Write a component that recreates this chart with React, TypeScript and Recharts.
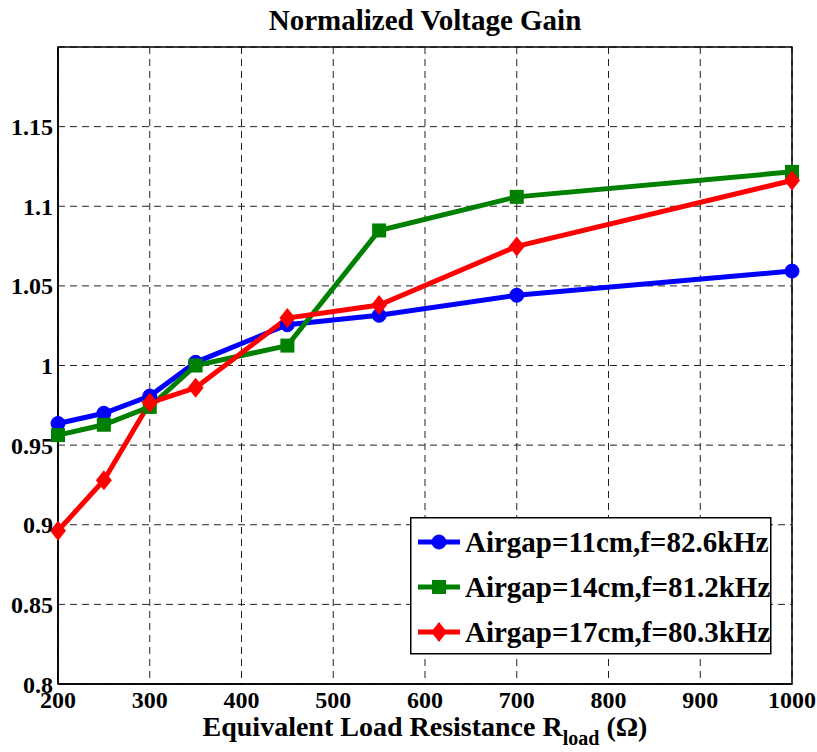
import { CartesianGrid, Legend, Line, LineChart, ReferenceArea, XAxis, YAxis } from 'recharts';

const LOADS = [200, 250, 300, 350, 450, 550, 700, 1000];
const GAIN_11CM = [0.9636, 0.97, 0.9808, 1.002, 1.0256, 1.0315, 1.0441, 1.0593];
const GAIN_14CM = [0.9563, 0.9628, 0.974, 1.0, 1.0125, 1.0848, 1.1059, 1.1216];
const GAIN_17CM = [0.8962, 0.928, 0.9766, 0.986, 1.0298, 1.038, 1.0748, 1.1162];

const X_TICKS = [200, 300, 400, 500, 600, 700, 800, 900, 1000];
const Y_TICKS = [0.8, 0.85, 0.9, 0.95, 1, 1.05, 1.1, 1.15];
const X_DOMAIN = [200, 1000];
const Y_DOMAIN = [0.8, 1.2];

const SERIES = [
  { key: 'g11', name: 'Airgap=11cm,f=82.6kHz', color: '#0000ff', marker: 'circle' },
  { key: 'g14', name: 'Airgap=14cm,f=81.2kHz', color: '#008000', marker: 'square' },
  { key: 'g17', name: 'Airgap=17cm,f=80.3kHz', color: '#ff0000', marker: 'diamond' },
];

const data = LOADS.map((r, i) => ({ r, g11: GAIN_11CM[i], g14: GAIN_14CM[i], g17: GAIN_17CM[i] }));

const FONT = '"Liberation Serif", "Times New Roman", serif';
const tickStyle = { fontFamily: FONT, fontWeight: 'bold', fontSize: 24, fill: '#000' };

function Marker({ cx, cy, kind, color }: { cx: number; cy: number; kind: string; color: string }) {
  if (cx == null || cy == null) return null;
  if (kind === 'circle') return <circle cx={cx} cy={cy} r={7} fill={color} stroke={color} />;
  if (kind === 'square') return <rect x={cx - 7} y={cy - 7} width={14} height={14} fill={color} />;
  return <path d={`M${cx},${cy - 10}L${cx + 8},${cy}L${cx},${cy + 10}L${cx - 8},${cy}Z`} fill={color} />;
}

function XLabel({ viewBox }: any) {
  const x = viewBox.x + viewBox.width / 2;
  const y = viewBox.y + 52;
  return (
    <text x={x} y={y} textAnchor="middle" fontFamily={FONT} fontWeight="bold" fontSize={28} fill="#000">
      <tspan>Equivalent Load Resistance R</tspan>
      <tspan dy={9} fontSize={20}>load</tspan>
      <tspan dy={-9}> (Ω)</tspan>
    </text>
  );
}

function LegendBox() {
  return (
    <svg width={362} height={138} style={{ display: 'block' }}>
      <rect x={0.75} y={0.75} width={360} height={136} fill="#fff" stroke="#000" strokeWidth={1.5} />
      {SERIES.map((s, i) => {
        const cy = 25 + i * 45;
        return (
          <g key={s.key}>
            <line x1={8} x2={50} y1={cy} y2={cy} stroke={s.color} strokeWidth={5} />
            <Marker cx={29} cy={cy} kind={s.marker} color={s.color} />
            <text x={55} y={cy + 10} fontFamily={FONT} fontWeight="bold" fontSize={29} fill="#000">
              {s.name}
            </text>
          </g>
        );
      })}
    </svg>
  );
}

export default function App() {
  return (
    <div style={{ position: 'absolute', left: 0, top: 0, width: 817, height: 752, background: '#fff' }}>
      <div
        style={{
          position: 'absolute',
          left: 58,
          width: 734,
          top: 5,
          textAlign: 'center',
          fontFamily: FONT,
          fontWeight: 'bold',
          fontSize: 29,
          lineHeight: '30px',
        }}
      >
        Normalized Voltage Gain
      </div>
      <LineChart width={817} height={752} data={data} margin={{ top: 47, right: 25, left: 0, bottom: 0 }}>
        <CartesianGrid stroke="#222" strokeDasharray="7 5" strokeWidth={1} />
        <XAxis
          dataKey="r"
          type="number"
          domain={X_DOMAIN}
          ticks={X_TICKS}
          tickLine={false}
          tickSize={5}
          tickMargin={2}
          height={68}
          axisLine={{ stroke: '#000', strokeWidth: 1.5 }}
          tick={tickStyle}
          label={<XLabel />}
        />
        <YAxis
          type="number"
          domain={Y_DOMAIN}
          ticks={Y_TICKS}
          width={58}
          tickLine={false}
          tickSize={3}
          tickMargin={2}
          axisLine={{ stroke: '#000', strokeWidth: 1.5 }}
          tick={tickStyle}
          tickFormatter={(v: number) => String(Number(v.toFixed(2)))}
        />
        <ReferenceArea
          x1={X_DOMAIN[0]}
          x2={X_DOMAIN[1]}
          y1={Y_DOMAIN[0]}
          y2={Y_DOMAIN[1]}
          fill="none"
          stroke="#000"
          strokeWidth={1.5}
          fillOpacity={0}
        />
        {SERIES.map((s) => (
          <Line
            key={s.key}
            dataKey={s.key}
            name={s.name}
            type="linear"
            stroke={s.color}
            strokeWidth={5}
            isAnimationActive={false}
            dot={(p: any) => <Marker key={`${s.key}-${p.index}`} cx={p.cx} cy={p.cy} kind={s.marker} color={s.color} />}
            activeDot={false}
          />
        ))}
        <Legend
          layout="vertical"
          align="center"
          verticalAlign="middle"
          content={() => <LegendBox />}
          wrapperStyle={{ left: 410, top: 517, width: 362, height: 138 }}
        />
      </LineChart>
    </div>
  );
}
